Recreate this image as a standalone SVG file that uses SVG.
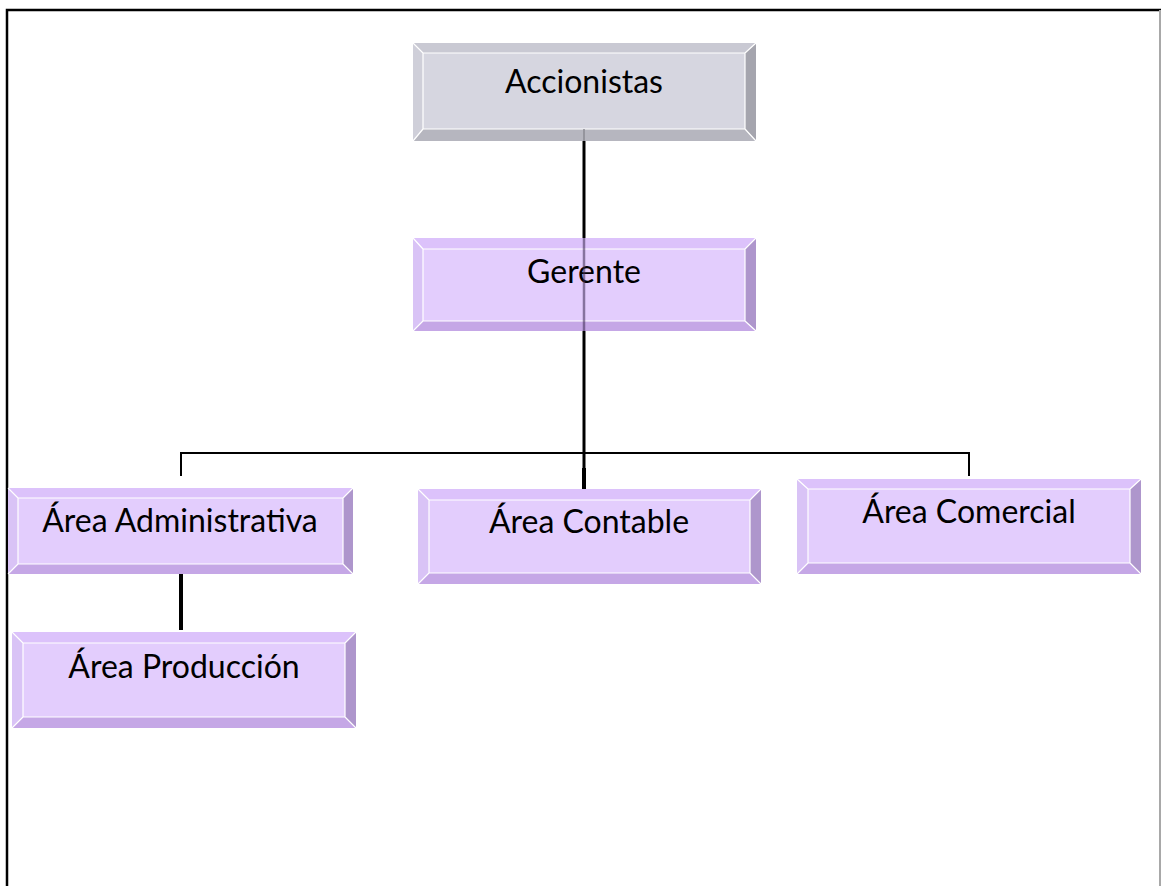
<svg xmlns="http://www.w3.org/2000/svg" width="1161" height="886" viewBox="0 0 1161 886">
<style>
.bg{fill:#ffffff}
.frame{stroke:#000;stroke-width:2.5;fill:none}
.frameR{stroke:#a8a8a8;stroke-width:2;fill:none}
.gt{fill:#c9c9d3}.gl{fill:#cfcfd9}.gr{fill:#a5a5ae}.gb{fill:#b6b6bf}.gf{fill:#d6d6e0}
.pt{fill:#dcc2fb}.pl{fill:#d9c3f6}.pr{fill:#ae96cc}.pb{fill:#c5a7e6}.pf{fill:#e3cdfd}
.hl{stroke:#ffffff;stroke-width:1.2;fill:none}
.lbl{font-family:Lato,"Open Sans","Liberation Sans",sans-serif;font-size:32px;fill:#000;text-anchor:middle}
.c{stroke:#000;fill:none}
</style>
<rect class="bg" x="0" y="0" width="1161" height="886"/>
<g id="frame">
<path class="frame" d="M7,886 V10 H1161"/>
<path class="frameR" d="M1160,10 V886"/>
</g>
<g id="node-accionistas">
<polygon class="gt" points="413,43 756,43 745,53 423,53"/>
<polygon class="gl" points="413,43 423,53 423,129 413,141"/>
<polygon class="gr" points="756,43 756,141 745,129 745,53"/>
<polygon class="gb" points="413,141 423,129 745,129 756,141"/>
<rect class="gf" x="423" y="53" width="322" height="76"/>
<path class="hl" d="M423,53 H745 V129 H423 Z M413,43 L423,53 M756,43 L745,53 M413,141 L423,129 M756,141 L745,129"/>
<text class="lbl" x="584" y="93">Accionistas</text>
</g>
<g id="node-gerente">
<polygon class="pt" points="413,238 756,238 745,249 423,249"/>
<polygon class="pl" points="413,238 423,249 423,321 413,331"/>
<polygon class="pr" points="756,238 756,331 745,321 745,249"/>
<polygon class="pb" points="413,331 423,321 745,321 756,331"/>
<rect class="pf" x="423" y="249" width="322" height="72"/>
<path class="hl" d="M423,249 H745 V321 H423 Z M413,238 L423,249 M756,238 L745,249 M413,331 L423,321 M756,331 L745,321"/>
<text class="lbl" x="584" y="283">Gerente</text>
</g>
<g id="node-administrativa">
<polygon class="pt" points="8,488 353,488 343,498 18,498"/>
<polygon class="pl" points="8,488 18,498 18,564 8,574"/>
<polygon class="pr" points="353,488 353,574 343,564 343,498"/>
<polygon class="pb" points="8,574 18,564 343,564 353,574"/>
<rect class="pf" x="18" y="498" width="325" height="66"/>
<path class="hl" d="M18,498 H343 V564 H18 Z M8,488 L18,498 M353,488 L343,498 M8,574 L18,564 M353,574 L343,564"/>
<text class="lbl" x="180" y="532">Área Administrativa</text>
</g>
<g id="node-contable">
<polygon class="pt" points="418,489 761,489 750,500 429,500"/>
<polygon class="pl" points="418,489 429,500 429,573 418,584"/>
<polygon class="pr" points="761,489 761,584 750,573 750,500"/>
<polygon class="pb" points="418,584 429,573 750,573 761,584"/>
<rect class="pf" x="429" y="500" width="321" height="73"/>
<path class="hl" d="M429,500 H750 V573 H429 Z M418,489 L429,500 M761,489 L750,500 M418,584 L429,573 M761,584 L750,573"/>
<text class="lbl" x="589" y="533">Área Contable</text>
</g>
<g id="node-comercial">
<polygon class="pt" points="797,479 1141,479 1130,489 808,489"/>
<polygon class="pl" points="797,479 808,489 808,563 797,574"/>
<polygon class="pr" points="1141,479 1141,574 1130,563 1130,489"/>
<polygon class="pb" points="797,574 808,563 1130,563 1141,574"/>
<rect class="pf" x="808" y="489" width="322" height="74"/>
<path class="hl" d="M808,489 H1130 V563 H808 Z M797,479 L808,489 M1141,479 L1130,489 M797,574 L808,563 M1141,574 L1130,563"/>
<text class="lbl" x="969" y="523">Área Comercial</text>
</g>
<g id="node-produccion">
<polygon class="pt" points="12,632 356,632 345,643 23,643"/>
<polygon class="pl" points="12,632 23,643 23,717 12,728"/>
<polygon class="pr" points="356,632 356,728 345,717 345,643"/>
<polygon class="pb" points="12,728 23,717 345,717 356,728"/>
<rect class="pf" x="23" y="643" width="322" height="74"/>
<path class="hl" d="M23,643 H345 V717 H23 Z M12,632 L23,643 M356,632 L345,643 M12,728 L23,717 M356,728 L345,717"/>
<text class="lbl" x="184" y="678">Área Producción</text>
</g>
<g id="connectors">
<line x1="584" y1="129" x2="584" y2="141" stroke="#8a8a92" stroke-width="1.5"/>
<line class="c" x1="584" y1="141" x2="584" y2="238" stroke-width="3"/>
<line x1="584" y1="238" x2="584" y2="331" stroke="#3a2a50" stroke-opacity="0.55" stroke-width="2.5"/>
<line class="c" x1="584" y1="331" x2="584" y2="470" stroke-width="3"/>
<line class="c" x1="584" y1="468" x2="584" y2="489" stroke-width="4"/>
<path class="c" d="M181,476 V453 H969 V476" stroke-width="2"/>
<line class="c" x1="181" y1="574" x2="181" y2="630" stroke-width="4"/>
</g>
</svg>
